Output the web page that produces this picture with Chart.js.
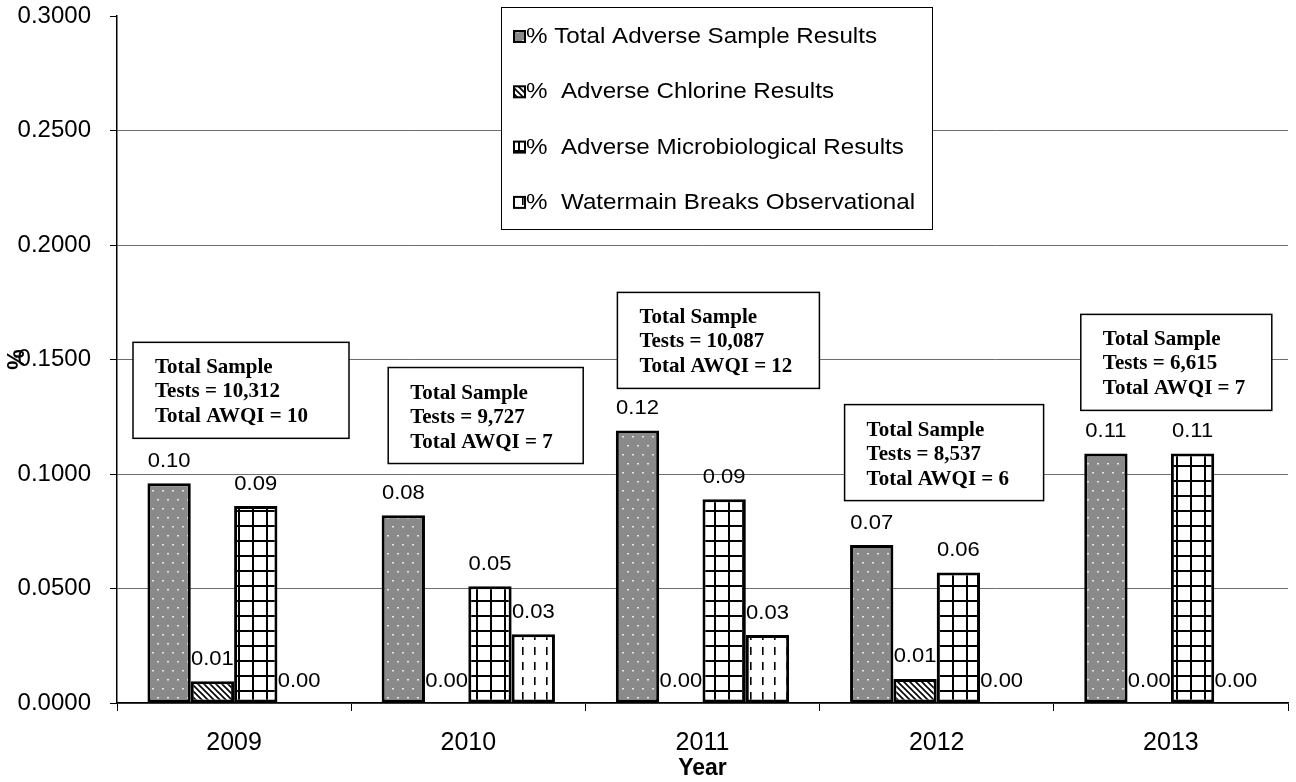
<!DOCTYPE html>
<html>
<head>
<meta charset="utf-8">
<script src="https://cdn.jsdelivr.net/npm/chart.js@4.4.1/dist/chart.umd.min.js"></script>
<style>
  html, body { margin: 0; padding: 0; background: #fff; }
  #wrap { width: 1296px; height: 782px; position: relative; }
</style>
</head>
<body>
<div id="wrap"><canvas id="chart"></canvas></div>
<script>
// values
const years = ['2009', '2010', '2011', '2012', '2013'];
const totalAdverse = [0.096, 0.082, 0.119, 0.069, 0.109];
const chlorine = [0.0095, 0, 0, 0.0105, 0];
const micro = [0.086, 0.051, 0.089, 0.057, 0.109];
const watermain = [0, 0.030, 0.0297, 0, 0];
const seriesNames = [
  '% Total Adverse Sample Results',
  '%  Adverse Chlorine Results',
  '%  Adverse Microbiological Results',
  '%  Watermain Breaks Observational'
];
const sampleTests = ['10,312', '9,727', '10,087', '8,537', '6,615'];
const totalAwqi = ['10', '7', '12', '6', '7'];

// where each "Total Sample" box sits (offset into its year slot, width, top in y units)
const boxSpots = [
  { dx: 16, w: 216, top: 0.1575 },
  { dx: 37, w: 195, top: 0.1465 },
  { dx: 32, w: 202, top: 0.1793 },
  { dx: 25, w: 199, top: 0.1303 },
  { dx: 27, w: 191, top: 0.1697 }
];

function makePattern(w, h, draw) {
  const c = document.createElement('canvas');
  c.width = w; c.height = h;
  const g = c.getContext('2d');
  draw(g, w, h);
  return document.getElementById('chart').getContext('2d').createPattern(c, 'repeat');
}

const dotted = makePattern(20, 18, (g, w, h) => {
  g.fillStyle = '#8a8a8a';
  g.fillRect(0, 0, w, h);
  g.fillStyle = '#e8e8e8';
  [[2, 4], [12, 4], [7, 13], [17, 13]].forEach(p => g.fillRect(p[0], p[1], 2, 1.5));
});
const hatched = makePattern(6, 6, (g, w, h) => {
  g.fillStyle = '#fff';
  g.fillRect(0, 0, w, h);
  g.strokeStyle = '#000';
  g.lineWidth = 1.6;
  g.beginPath();
  g.moveTo(-1, -1); g.lineTo(7, 7);
  g.moveTo(-1, 5); g.lineTo(1, 7);
  g.moveTo(5, -1); g.lineTo(7, 1);
  g.stroke();
});
const grid = makePattern(14, 15, (g, w, h) => {
  g.fillStyle = '#fff';
  g.fillRect(0, 0, w, h);
  g.fillStyle = '#000';
  g.fillRect(0, 0, 2, h);
  g.fillRect(0, 0, w, 2);
});
const dashes = makePattern(12, 15, (g, w, h) => {
  g.fillStyle = '#fff';
  g.fillRect(0, 0, w, h);
  g.fillStyle = '#000';
  g.fillRect(6, 2, 1.6, 8);
});
const fills = [dotted, hatched, grid, dashes];

const valueLabels = {
  id: 'valueLabels',
  afterDatasetsDraw(chart) {
    const ctx = chart.ctx;
    ctx.save();
    ctx.fillStyle = '#000';
    ctx.font = '20px "Liberation Sans", Arial, sans-serif';
    ctx.textAlign = 'center';
    ctx.textBaseline = 'middle';
    chart.data.datasets.forEach((ds, i) => {
      chart.getDatasetMeta(i).data.forEach((bar, j) => {
        ctx.save();
        ctx.translate(bar.x, bar.y - 22);
        ctx.scale(1.1, 1);
        ctx.fillText(ds.data[j].toFixed(2), 0, 0);
        ctx.restore();
      });
    });
    ctx.restore();
  }
};

const boxesAndLegend = {
  id: 'boxesAndLegend',
  afterDraw(chart) {
    const ctx = chart.ctx;
    const area = chart.chartArea;
    const y = chart.scales.y;
    const slot = (area.right - area.left) / years.length;
    ctx.save();
    // annotation boxes
    boxSpots.forEach((b, i) => {
      const bx = area.left + slot * i + b.dx;
      const by = y.getPixelForValue(b.top);
      ctx.fillStyle = '#fff';
      ctx.fillRect(bx, by, b.w, 96);
      ctx.strokeStyle = '#000';
      ctx.lineWidth = 1.5;
      ctx.strokeRect(bx, by, b.w, 96);
      ctx.fillStyle = '#000';
      ctx.font = 'bold 21px "Liberation Serif", "Times New Roman", serif';
      ctx.textAlign = 'left';
      ctx.textBaseline = 'alphabetic';
      ctx.fillText('Total Sample', bx + 22, by + 31);
      ctx.fillText('Tests = ' + sampleTests[i], bx + 22, by + 55);
      ctx.fillText('Total AWQI = ' + totalAwqi[i], bx + 22, by + 80);
    });
    // legend
    const lx = area.left + 384, ly = area.top - 9, lw = 431, lh = 222;
    ctx.fillStyle = '#fff';
    ctx.fillRect(lx, ly, lw, lh);
    ctx.strokeStyle = '#000';
    ctx.lineWidth = 1;
    ctx.strokeRect(lx + 0.5, ly + 0.5, lw, lh);
    seriesNames.forEach((name, i) => {
      const base = ly + 36 + i * 55.3;
      ctx.fillStyle = fills[i];
      ctx.fillRect(lx + 13, base - 12, 11, 11);
      ctx.strokeStyle = '#000';
      ctx.lineWidth = 2;
      ctx.strokeRect(lx + 13, base - 12, 11, 11);
      ctx.fillStyle = '#000';
      ctx.font = '22px "Liberation Sans", Arial, sans-serif';
      ctx.textAlign = 'left';
      ctx.textBaseline = 'alphabetic';
      ctx.save();
      ctx.translate(lx + 25, base);
      ctx.scale(1.1, 1);
      ctx.fillText(name, 0, 0);
      ctx.restore();
    });
    ctx.restore();
  }
};

new Chart(document.getElementById('chart'), {
  type: 'bar',
  data: {
    labels: years,
    datasets: [totalAdverse, chlorine, micro, watermain].map((d, i) => ({
      label: seriesNames[i],
      data: d,
      backgroundColor: fills[i],
      borderColor: '#000',
      borderWidth: 3,
      borderSkipped: false,
      categoryPercentage: 0.74,
      barPercentage: 1
    }))
  },
  options: {
    responsive: true,
    maintainAspectRatio: false,
    animation: false,
    layout: { padding: { top: 1, right: 8, left: 0, bottom: 0 } },
    plugins: {
      legend: { display: false },
      tooltip: { enabled: false }
    },
    scales: {
      x: {
        afterFit: s => { s.height = 79; },
        border: { color: '#000', width: 1.5 },
        grid: { drawOnChartArea: false, tickLength: 8, color: '#000', offset: true },
        ticks: {
          color: '#000',
          padding: 17,
          font: { family: '"Liberation Sans", Arial, sans-serif', size: 25 }
        },
        title: {
          display: true,
          text: 'Year',
          color: '#000',
          padding: { top: 0, bottom: 0 },
          font: { family: '"Liberation Sans", Arial, sans-serif', size: 23, weight: 'bold' }
        }
      },
      y: {
        min: 0,
        max: 0.3,
        afterFit: s => { s.width = 117; s.paddingTop = 16; s.paddingBottom = 0; },
        border: { color: '#000', width: 1.5 },
        grid: {
          color: c => (c.tick && c.tick.value >= 0.3 ? 'rgba(0,0,0,0)' : '#6e6e6e'),
          tickColor: '#000',
          tickLength: 7
        },
        ticks: {
          stepSize: 0.05,
          color: '#000',
          padding: 19,
          font: { family: '"Liberation Sans", Arial, sans-serif', size: 24 },
          callback: v => v.toFixed(4)
        },
        title: {
          display: true,
          text: '%',
          color: '#000',
          padding: { top: 4, bottom: 0 },
          font: { family: '"Liberation Sans", Arial, sans-serif', size: 23, weight: 'bold' }
        }
      }
    }
  },
  plugins: [valueLabels, boxesAndLegend]
});
</script>
</body>
</html>
